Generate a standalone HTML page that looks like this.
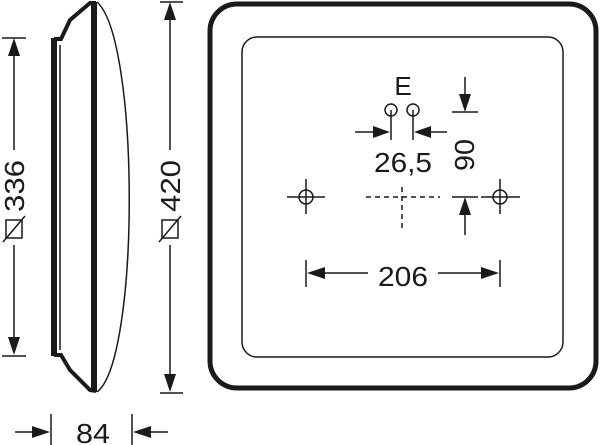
<!DOCTYPE html>
<html><head><style>html,body{margin:0;padding:0;background:#fff}svg{display:block}</style></head>
<body>
<svg width="600" height="445" viewBox="0 0 600 445" xmlns="http://www.w3.org/2000/svg" font-family="Liberation Sans, sans-serif" fill="#1a1a1a">
<g stroke="#1a1a1a" fill="none">
<path d="M54,38 L54,356" stroke-width="6"/>
<path d="M54,39 L61,39 L70,20 L90,3 L96,3" stroke-width="4"/>
<path d="M54,355 L61,355 L70,370 L90,390 L96,391" stroke-width="4"/>
<path d="M60,45 L60,350" stroke-width="1.5"/>
<path d="M94,2 L94,392" stroke-width="6"/>
<path d="M97,2 C140,40 140,360 97,392" stroke-width="1.5"/>
<path d="M2,38H26M2,356H26" stroke-width="1.5"/>
<path d="M14,54V150M14,245V340" stroke-width="1.5"/>
<rect x="6" y="220" width="16" height="18" stroke-width="1.5"/>
<path d="M3,242L25,216" stroke-width="1.5"/>
<path d="M160,2H183M160,393H183" stroke-width="1.5"/>
<path d="M170,18V150M170,245V377" stroke-width="1.5"/>
<rect x="162" y="220" width="16" height="18" stroke-width="1.5"/>
<path d="M159,242L181,216" stroke-width="1.5"/>
<path d="M51,414V445M132,414V445" stroke-width="1.5"/>
<path d="M15,432H36M148,432H168" stroke-width="1.5"/>
<rect x="210" y="4" width="386" height="384" rx="27" stroke-width="5"/>
<rect x="242" y="37" width="321" height="320" rx="15" stroke-width="1.5"/>
<circle cx="306" cy="197" r="7" stroke-width="1.5"/>
<path d="M287,197H325M306,179V214" stroke-width="1.5"/>
<circle cx="500" cy="197" r="7" stroke-width="1.5"/>
<path d="M481,197H520M500,179V214" stroke-width="1.5"/>
<path d="M366,197H440M402,187V232" stroke-width="1.5" stroke-dasharray="5,4"/>
<circle cx="391" cy="110" r="6" stroke-width="1.5"/>
<circle cx="413" cy="110" r="6" stroke-width="1.5"/>
<path d="M391,110V140M413,110V140" stroke-width="1.5"/>
<path d="M355,132H376M428,132H447" stroke-width="1.5"/>
<path d="M452,112H478M452,197H478" stroke-width="1.5"/>
<path d="M465,77V96M465,213V235" stroke-width="1.5"/>
<path d="M306,260V287M500,260V287" stroke-width="1.5"/>
<path d="M324,273H368M438,273H482" stroke-width="1.5"/>
</g>
<g fill="#1a1a1a">
<polygon points="14,38 8,56 20,56"/>
<polygon points="14,355 8,337 20,337"/>
<polygon points="170,2 164,20 176,20"/>
<polygon points="170,392 164,374 176,374"/>
<polygon points="50,432 32,426 32,438"/>
<polygon points="133,432 151,426 151,438"/>
<polygon points="390,132 373,126 373,138"/>
<polygon points="414,132 431,126 431,138"/>
<polygon points="465,112 459,94 471,94"/>
<polygon points="465,197 459,215 471,215"/>
<polygon points="307,273 325,267 325,279"/>
<polygon points="499,273 481,267 481,279"/>
</g>
<g font-size="28">
<text transform="translate(24,186) rotate(-90)" text-anchor="middle" textLength="52" lengthAdjust="spacingAndGlyphs">336</text>
<text transform="translate(180,186) rotate(-90)" text-anchor="middle" textLength="52" lengthAdjust="spacingAndGlyphs">420</text>
<text x="93" y="443" text-anchor="middle" textLength="34" lengthAdjust="spacingAndGlyphs">84</text>
<text x="403" y="95" text-anchor="middle" font-size="26">E</text>
<text x="403" y="172" text-anchor="middle" textLength="58" lengthAdjust="spacingAndGlyphs">26,5</text>
<text transform="translate(474,155) rotate(-90)" text-anchor="middle" textLength="32" lengthAdjust="spacingAndGlyphs">90</text>
<text x="403" y="286" text-anchor="middle" textLength="50" lengthAdjust="spacingAndGlyphs">206</text>
</g>
</svg>
</body></html>
